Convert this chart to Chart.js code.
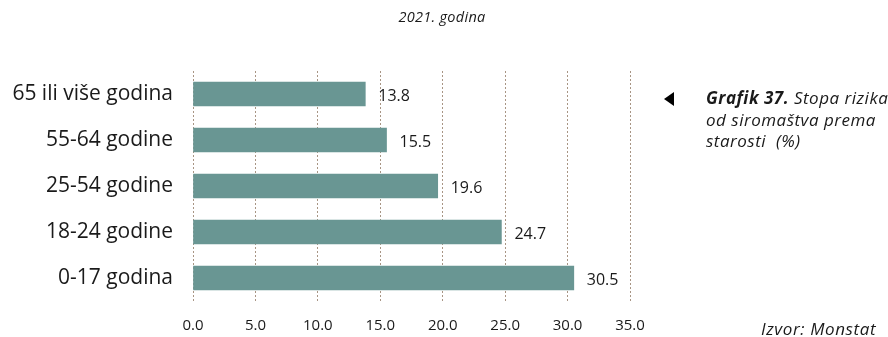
<!DOCTYPE html>
<html>
<head>
<meta charset="utf-8">
<script src="https://cdn.jsdelivr.net/npm/chart.js@4/dist/chart.umd.min.js"></script>
<style>
  html, body { margin: 0; padding: 0; background: #fff; }
  #wrap { position: relative; width: 888px; height: 337px; font-family: "Open Sans", sans-serif; color: #1a1a1a; overflow: hidden; }
  #chart { position: absolute; left: 0; top: 0; }
  .title { position: absolute; left: 372px; top: 7px; width: 140px; text-align: center; font-size: 14.5px; font-style: italic; letter-spacing: 0.3px; }
  .arrow { position: absolute; left: 664px; top: 92px; width: 0; height: 0;
           border-top: 7px solid transparent; border-bottom: 7px solid transparent; border-right: 10px solid #000; }
  .note { position: absolute; left: 706px; top: 87px; font-size: 17px; font-style: italic; line-height: 21.5px; white-space: nowrap; letter-spacing: 0.5px; }
  .src { position: absolute; left: 761px; top: 317px; font-size: 17px; font-style: italic; letter-spacing: 0.6px; }
</style>
</head>
<body>
<div id="wrap">
  <canvas id="chart" width="888" height="337"></canvas>
  <div class="title">2021. godina</div>
  <div class="arrow"></div>
  <div class="note"><b>Grafik 37.</b> Stopa rizika<br>od siromaštva prema<br>starosti&nbsp; (%)</div>
  <div class="src">Izvor: Monstat</div>
</div>
<script>
const categories = ['65 ili više godina', '55-64 godine', '25-54 godine', '18-24 godine', '0-17 godina'];
const values = [13.8, 15.5, 19.6, 24.7, 30.5];
const xTicks = [0, 5, 10, 15, 20, 25, 30, 35];

// labels next to each bar end
const valueLabels = {
  id: 'valueLabels',
  afterDatasetsDraw(chart) {
    const ctx = chart.ctx;
    const meta = chart.getDatasetMeta(0);
    ctx.save();
    ctx.font = '16px "Open Sans", sans-serif';
    ctx.fillStyle = '#1a1a1a';
    ctx.textBaseline = 'middle';
    ctx.textAlign = 'left';
    meta.data.forEach((bar, i) => {
      ctx.fillText(values[i].toFixed(1), bar.x + 13, bar.y + 2);
    });
    ctx.restore();
  }
};

new Chart(document.getElementById('chart'), {
  type: 'bar',
  data: {
    labels: categories,
    datasets: [{
      data: values,
      backgroundColor: '#699693',
      barThickness: 24
    }]
  },
  options: {
    indexAxis: 'y',
    responsive: false,
    animation: false,
    layout: { padding: { top: 71, right: 258, left: 0, bottom: 0 } },
    plugins: { legend: { display: false }, tooltip: { enabled: false } },
    scales: {
      x: {
        min: 0,
        max: 35,
        afterFit(scale) { scale.height = 36; },
        afterBuildTicks(scale) { scale.ticks = xTicks.map(v => ({ value: v })); },
        border: { display: false, dash: [2, 2] },
        grid: {
          color: '#a89584',
          lineWidth: 1,
          drawTicks: false
        },
        ticks: {
          padding: 16,
          font: { family: 'Open Sans', size: 15 },
          color: '#1a1a1a',
          callback: v => v.toFixed(1)
        }
      },
      y: {
        afterFit(scale) { scale.width = 193; },
        border: { display: false },
        grid: { display: false, drawTicks: false },
        ticks: {
          padding: 20,
          font: { family: 'Open Sans', size: 21 },
          color: '#1a1a1a'
        }
      }
    }
  },
  plugins: [valueLabels]
});
</script>
</body>
</html>
